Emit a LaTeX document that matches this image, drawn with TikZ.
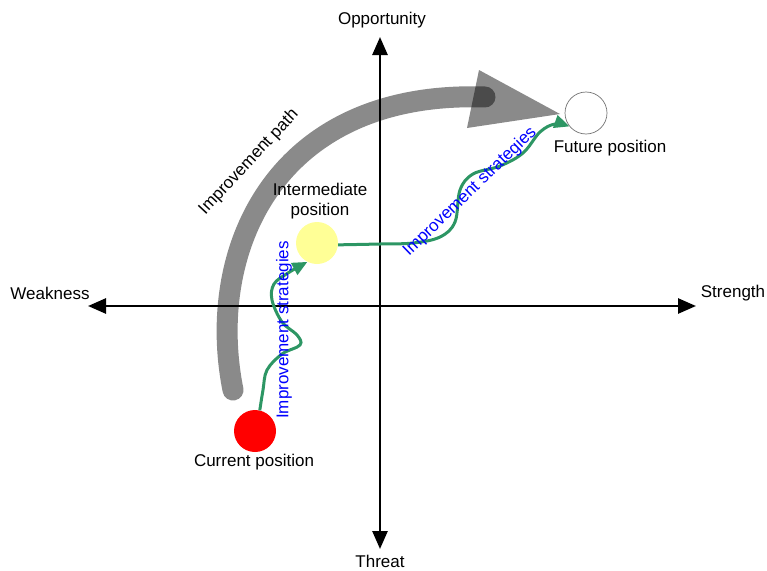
\documentclass[tikz,border=0pt]{standalone}
\usepackage{fontspec}
\setmainfont{Liberation Sans}
\usetikzlibrary{arrows.meta}
\definecolor{pathgreen}{RGB}{45,150,100}
\definecolor{midyellow}{RGB}{255,255,150}
\begin{document}
\begin{tikzpicture}[x=1pt,y=-1pt,
  every node/.style={font=\fontsize{17}{20}\selectfont},
  axis/.style={line width=2.6pt,{Triangle[length=18pt,width=15pt]}-{Triangle[length=18pt,width=15pt]}},
  posdot/.style={circle,minimum size=42pt,inner sep=0pt},
  band/.style={line width=21pt,line cap=round,draw=black,draw opacity=0.46},
  strategy/.style={draw=pathgreen,line width=3pt,-{Triangle[length=15pt,width=13pt]}},
  strategytext/.style={text=blue,inner sep=1pt}]
\useasboundingbox (0,0) rectangle (767,570);

% quadrant axes
\coordinate (wk) at (88,306);
\coordinate (st) at (696,306);
\coordinate (op) at (380,37);
\coordinate (th) at (380,549);
\draw[axis] (wk) -- (st);
\draw[axis] (th) -- (op);
\node (lwk) at (50,293) {Weakness};
\node (lst) at (733,293) {Strength};
\node (lop) at (382,20) {Opportunity};
\node (lth) at (380,561) {Threat};

% broad improvement path arrow
\coordinate (bs) at (233,390);
\coordinate (be) at (485,97);
\draw[band] (bs) .. controls (205,250) and (275,90) .. (be);
\fill[black,fill opacity=0.46] (479,70) -- (560,114) -- (467,128) -- cycle;
\node[rotate=47] (lpath) at (249,162) {Improvement path};

% positions
\node[posdot,fill=red] (cur) at (255,431) {};
\node[posdot,fill=midyellow] (mid) at (317,243) {};
\node[posdot,draw=black!55,line width=0.7pt,fill=white] (fut) at (586,113) {};
\node (lcur) at (254,462) {Current position};
\node[align=center] (lmid) at (320,201) {Intermediate\\position};
\node (lfut) at (610,148) {Future position};

% strategy steps between positions
\draw[strategy] plot[smooth,tension=0.6] coordinates {(cur.77) (263,390) (267,370) (282,354) (300,345) (297,335) (282,322) (272,300) (274,284) (288,273) (mid.243)};
\draw[strategy] plot[smooth,tension=0.6] coordinates {(mid.-5) (380,244) (413,243) (440,237) (455,222) (460,190) (473,174) (500,166) (523,153) (540,132) (555,124) (fut.219)};
\node[strategytext,rotate=90] (ls1) at (284,330) {Improvement strategies};
\node[strategytext,rotate=44] (ls2) at (470,192) {Improvement strategies};
\end{tikzpicture}
\end{document}
